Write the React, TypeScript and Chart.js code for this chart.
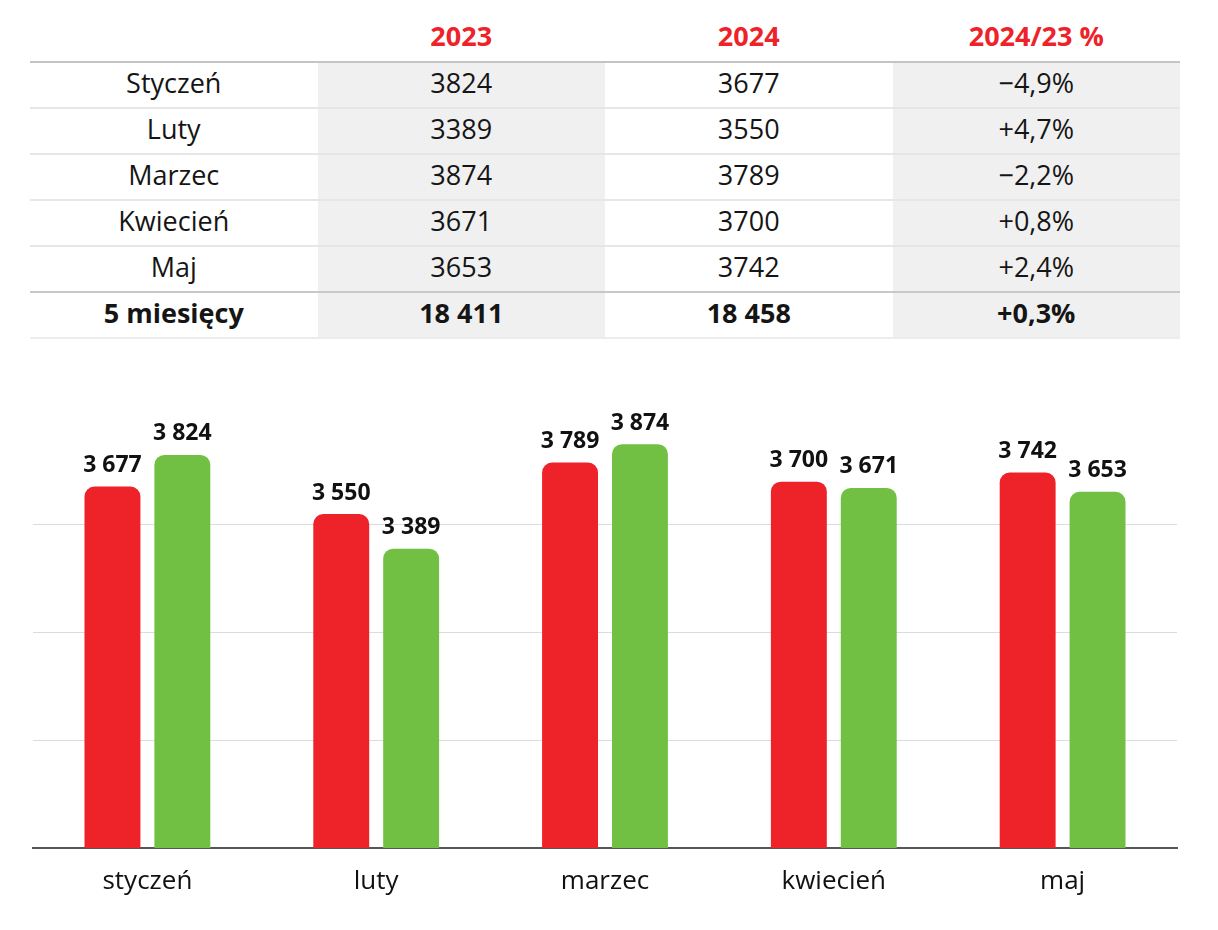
import React, { useEffect, useRef } from "react";
import { Chart, registerables } from "chart.js";

Chart.register(...registerables);

const tableMonths = ["Styczeń", "Luty", "Marzec", "Kwiecień", "Maj"];
const chartMonths = ["styczeń", "luty", "marzec", "kwiecień", "maj"];
const values2023 = [3824, 3389, 3874, 3671, 3653];
const values2024 = [3677, 3550, 3789, 3700, 3742];
const changePct = ["−4,9%", "+4,7%", "−2,2%", "+0,8%", "+2,4%"];
const totalLabel = "5 miesięcy";
const totalPct = "+0,3%";
const headers = ["", "2023", "2024", "2024/23 %"];
const yTicks = [2500, 3000, 3500];

const RED = "#ee2229";
const GREEN = "#71c044";
const FONT = '"Open Sans", "Noto Sans", sans-serif';

const fmt = (v: number) => String(v).replace(/\B(?=(\d{3})+(?!\d))/g, " ");

const valueLabels = {
  id: "valueLabels",
  afterDatasetsDraw(chart: any) {
    const ctx = chart.ctx;
    ctx.save();
    ctx.font = `bold 23px ${FONT}`;
    ctx.fillStyle = "#111";
    ctx.textAlign = "center";
    ctx.textBaseline = "middle";
    chart.data.datasets.forEach((ds: any, i: number) => {
      const meta = chart.getDatasetMeta(i);
      meta.data.forEach((bar: any, j: number) => {
        ctx.fillText(fmt(ds.data[j]), bar.x, bar.y - 21);
      });
    });
    ctx.restore();
  },
};

function BarChart() {
  const ref = useRef<HTMLCanvasElement>(null);
  useEffect(() => {
    if (!ref.current) return;
    const chart = new Chart(ref.current, {
      type: "bar",
      data: {
        labels: chartMonths,
        datasets: [
          {
            label: "2024",
            data: values2024,
            backgroundColor: RED,
            borderRadius: 10,
            categoryPercentage: 0.611,
            barPercentage: 0.8,
          },
          {
            label: "2023",
            data: values2023,
            backgroundColor: GREEN,
            borderRadius: 10,
            categoryPercentage: 0.611,
            barPercentage: 0.8,
          },
        ],
      },
      options: {
        animation: false,
        responsive: false,
        layout: { padding: { left: 25, right: 33, top: 37, bottom: 30 } },
        plugins: { legend: { display: false }, tooltip: { enabled: false } },
        scales: {
          x: {
            grid: { display: false, drawTicks: false },
            border: { display: true, color: "#555", width: 2 },
            ticks: { color: "#111", font: { family: FONT, size: 26 }, padding: 18 },
            afterFit: (s: any) => {
              s.height = 52;
            },
          },
          y: {
            min: 2000,
            max: 4000,
            afterBuildTicks: (s: any) => {
              s.ticks = [2000, ...yTicks, 4000].map((v) => ({ value: v }));
            },
            grid: {
              drawTicks: false,
              color: (c: any) => (yTicks.includes(c.tick && c.tick.value) ? "#dcdcdc" : "rgba(0,0,0,0)"),
              lineWidth: 1,
            },
            border: { display: false },
            ticks: { display: false },
            afterFit: (s: any) => {
              s.width = 0;
            },
          },
        },
      },
      plugins: [valueLabels],
    });
    return () => chart.destroy();
  }, []);
  return <canvas ref={ref} width={1202} height={550} style={{ display: "block", width: 1202, height: 550 }} />;
}

const cellBase: React.CSSProperties = {
  display: "flex",
  alignItems: "center",
  justifyContent: "center",
  boxSizing: "border-box",
};

function DataTable() {
  const colW = 287.5;
  const rowStyle = (h: number, border: string): React.CSSProperties => ({
    display: "flex",
    height: h,
    boxSizing: "border-box",
    borderBottom: border,
  });
  const cell = (text: string, idx: number, extra: React.CSSProperties = {}) => (
    <div
      key={idx}
      style={{
        ...cellBase,
        width: colW,
        height: "100%",
        paddingBottom: 6,
        background: idx === 1 || idx === 3 ? "#f0f0f1" : "transparent",
        ...extra,
      }}
    >
      {text}
    </div>
  );
  return (
    <div
      style={{
        position: "absolute",
        left: 22,
        top: 0,
        width: 1150,
        fontFamily: FONT,
        fontSize: 27,
        color: "#151515",
      }}
    >
      <div style={rowStyle(55, "2px solid #c4c4c4")}>
        {headers.map((h, i) => (
          <div key={i} style={{ ...cellBase, width: colW, height: "100%", color: RED, fontWeight: 700, paddingTop: 2 }}>
            {h}
          </div>
        ))}
      </div>
      {tableMonths.map((m, r) => (
        <div key={m} style={rowStyle(46, r === tableMonths.length - 1 ? "2px solid #c8c8c8" : "2px solid #e6e6e6")}>
          {cell(m, 0)}
          {cell(String(values2023[r]), 1)}
          {cell(String(values2024[r]), 2)}
          {cell(changePct[r], 3)}
        </div>
      ))}
      <div style={{ ...rowStyle(46, "2px solid #ececec"), fontWeight: 700 }}>
        {cell(totalLabel, 0)}
        {cell(fmt(values2023.reduce((a, b) => a + b, 0)), 1)}
        {cell(fmt(values2024.reduce((a, b) => a + b, 0)), 2)}
        {cell(totalPct, 3)}
      </div>
    </div>
  );
}

export default function App() {
  return (
    <div style={{ position: "relative", width: 1202, height: 922 }}>
      <DataTable />
      <div style={{ position: "absolute", left: 0, top: 372 }}>
        <BarChart />
      </div>
    </div>
  );
}
